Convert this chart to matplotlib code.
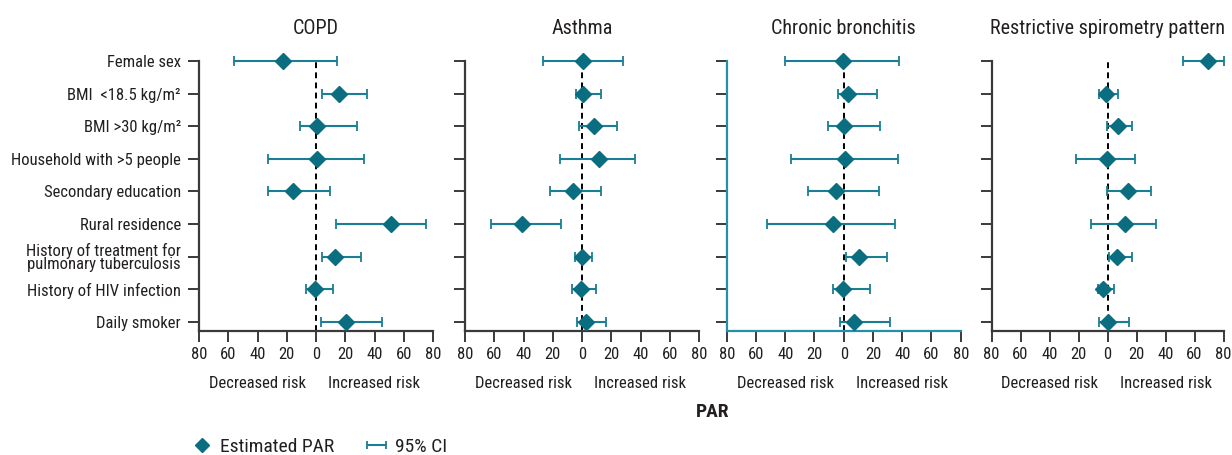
import matplotlib
matplotlib.use("Agg")
import matplotlib.pyplot as plt
from matplotlib.lines import Line2D
import numpy as np

plt.rcParams['font.family'] = ['Roboto Condensed', 'Liberation Sans Narrow', 'DejaVu Sans']
plt.rcParams['font.stretch'] = 'condensed'

# ---------------- data ----------------
factors = ["Female sex", "BMI  <18.5 kg/m²", "BMI >30 kg/m²", "Household with >5 people",
           "Secondary education", "Rural residence",
           "History of treatment for\npulmonary tuberculosis",
           "History of HIV infection", "Daily smoker"]
panels = ["COPD", "Asthma", "Chronic bronchitis", "Restrictive spirometry pattern"]

copd_par = [-22.4, 16.0, 0.5, 0.7, -16.0, 51.4, 13.3, -0.9, 20.2]
copd_lo = [-55.8, 4.4, -11.2, -32.7, -32.9, 14.0, 4.4, -6.6, 3.2]
copd_hi = [14.2, 35.0, 27.9, 32.9, 9.6, 75.0, 30.7, 11.7, 45.1]

asthma_par = [0.9, 0.7, 8.4, 11.4, -6.4, -41.3, 0.0, -0.7, 3.0]
asthma_lo = [-26.9, -4.1, -1.8, -15.0, -21.7, -62.0, -4.8, -7.1, -3.2]
asthma_hi = [27.8, 13.2, 24.2, 36.5, 13.2, -14.1, 7.1, 9.3, 16.6]

cb_par = [-0.2, 3.0, 0.5, 1.1, -5.0, -7.1, 10.7, -0.5, 6.8]
cb_lo = [-39.9, -3.9, -10.5, -36.2, -24.6, -52.4, 1.8, -7.1, -2.7]
cb_hi = [38.1, 23.0, 24.8, 36.9, 24.4, 35.3, 29.9, 17.8, 31.7]

rsp_par = [69.4, -0.7, 7.3, -0.5, 14.4, 11.9, 6.4, -3.4, 0.5]
rsp_lo = [52.1, -5.9, -0.5, -21.9, -0.5, -11.2, 0.7, -6.6, -5.7]
rsp_hi = [80.0, 7.3, 16.7, 19.0, 30.1, 33.3, 16.7, 4.3, 15.1]

xticks = [-80, -60, -40, -20, 0, 20, 40, 60, 80]
xticklabels = ["80", "60", "40", "20", "0", "20", "40", "60", "80"]

series = [(copd_par, copd_lo, copd_hi), (asthma_par, asthma_lo, asthma_hi),
          (cb_par, cb_lo, cb_hi), (rsp_par, rsp_lo, rsp_hi)]

# ---------------- style ----------------
W, H = 1232, 455
MARK = '#0b6d80'
CI = '#1a7e94'
SPINE3 = '#2291a8'
TXT = '#231f20'
TICK = '#3a3a3a'
FS = 12

fig = plt.figure(figsize=(W / 100, H / 100), dpi=100)

lefts = [199, 465, 726.7, 991.5]
widths = [234, 234, 234, 232]
top, bot = 61.3, 330.7
ypos = np.arange(len(factors))

def fx(px):
    return px / W

def fy(py):
    return 1 - py / H

for i, (name, (par, lo, hi)) in enumerate(zip(panels, series)):
    pw = widths[i]
    ax = fig.add_axes([fx(lefts[i]), fy(bot), pw / W, (bot - top) / H])
    par = np.array(par); lo = np.array(lo); hi = np.array(hi)
    ax.axvline(0, color='black', ls=(0, (3, 2.2)), lw=1.4, zorder=1)
    ax.errorbar(par, ypos, xerr=[par - lo, hi - par], fmt='none', ecolor=CI,
                elinewidth=1.5, capsize=3.5, capthick=1.3, zorder=2, clip_on=False)
    ax.plot(par, ypos, ls='none', marker='D', ms=8, color=MARK, zorder=3, clip_on=False)
    ax.set_xlim(-80, 80)
    ax.set_ylim(8.28, 0)
    ax.set_xticks(xticks)
    ax.set_xticklabels(xticklabels)
    ax.set_yticks(ypos)
    if i == 0:
        ax.set_yticklabels(factors, linespacing=0.9)
    else:
        ax.set_yticklabels([])
    ax.tick_params(axis='x', direction='out', length=8, width=1.4, color=TICK,
                   labelsize=12, labelcolor=TXT, pad=4)
    ax.tick_params(axis='y', direction='out', length=8, width=1.4, color=TICK,
                   labelsize=FS, labelcolor=TXT, pad=5)
    for s in ['top', 'right']:
        ax.spines[s].set_visible(False)
    sc = SPINE3 if i == 2 else TICK
    for s in ['left', 'bottom']:
        ax.spines[s].set_color(sc)
        ax.spines[s].set_linewidth(1.6)
    cx = lefts[i] + pw / 2
    fig.text(fx(cx), fy(28), name, ha='center', va='center', fontsize=14.5, color=TXT)
    fig.text(fx(lefts[i] + pw * 0.25), fy(384), "Decreased risk", ha='center', va='center',
             fontsize=FS, color=TXT)
    fig.text(fx(lefts[i] + pw * 0.75), fy(384), "Increased risk", ha='center', va='center',
             fontsize=FS, color=TXT)

fig.text(fx(713), fy(412), "PAR", ha='center', va='center', fontsize=14,
         fontweight='bold', color=TXT)

# legend
dummy = fig.add_axes([0, 0, 0.01, 0.01])
dummy.set_visible(False)
eb = dummy.errorbar([0], [0], xerr=[[1], [1]], fmt='none', ecolor=CI, elinewidth=1.5,
                    capsize=3, capthick=1.3, label='95% CI')
h1 = Line2D([], [], ls='none', marker='D', ms=7, color=MARK, label='Estimated PAR')
fig.legend(handles=[h1, eb], labels=['Estimated PAR', '95% CI'], loc='center left',
           bbox_to_anchor=(fx(191), fy(447)), ncol=2, frameon=False, fontsize=14,
           handlelength=1.1, handletextpad=0.4, columnspacing=1.6,
           labelcolor=TXT, borderaxespad=0, borderpad=0)

fig.savefig("out.png", dpi=100)
